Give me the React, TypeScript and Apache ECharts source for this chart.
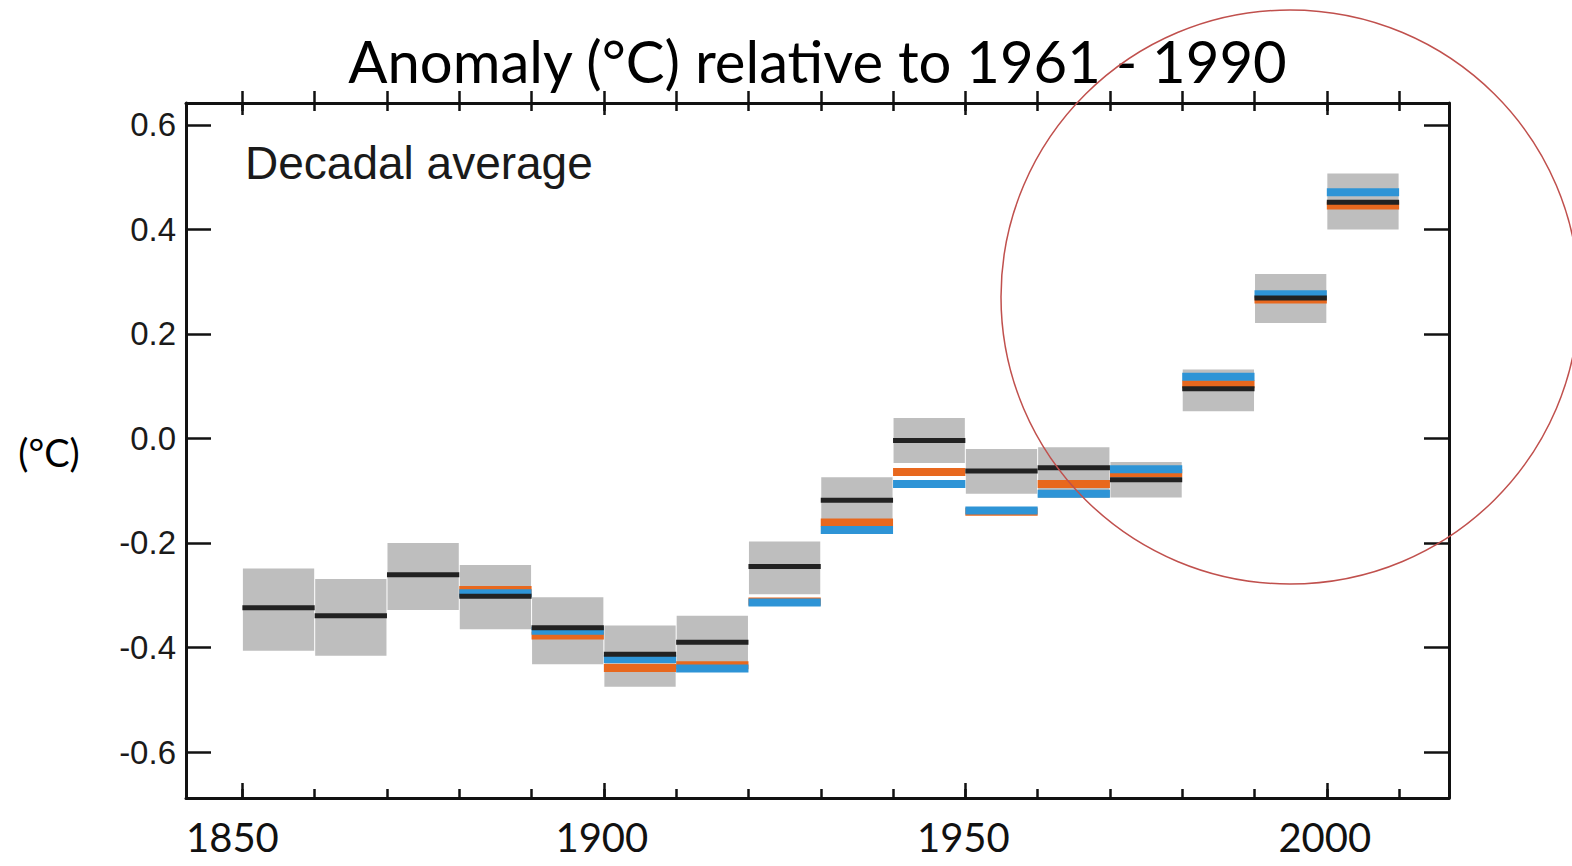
import React, { useEffect, useRef } from "react";
import * as echarts from "echarts";

// Decade start years (each box spans one decade)
const decades = [1850, 1860, 1870, 1880, 1890, 1900, 1910, 1920, 1930, 1940, 1950, 1960, 1970, 1980, 1990, 2000];
// Grey uncertainty band (low / high)
const bandLow = [-0.406, -0.416, -0.328, -0.365, -0.432, -0.475, -0.429, -0.298, -0.160, -0.047, -0.106, -0.114, -0.113, 0.052, 0.221, 0.400];
const bandHigh = [-0.249, -0.269, -0.200, -0.242, -0.304, -0.358, -0.339, -0.197, -0.074, 0.039, -0.020, -0.017, -0.045, 0.132, 0.315, 0.507];
// Decadal means of three datasets
const blackMean = [-0.324, -0.339, -0.261, -0.302, -0.362, -0.413, -0.390, -0.245, -0.118, -0.004, -0.062, -0.056, -0.079, 0.095, 0.269, 0.452];
const orangeMean = [null, null, null, -0.290, -0.377, -0.439, -0.434, -0.312, -0.161, -0.064, -0.140, -0.087, -0.066, 0.104, 0.266, 0.446];
const blueMean = [null, null, null, -0.296, -0.368, -0.422, -0.440, -0.314, -0.175, -0.087, -0.138, -0.106, -0.059, 0.118, 0.276, 0.471];

// Axis ticks / labels
const yTicks = [-0.6, -0.4, -0.2, 0, 0.2, 0.4, 0.6];
const xMajor = [1850, 1900, 1950, 2000];
const xAllTicks = [1850, 1860, 1870, 1880, 1890, 1900, 1910, 1920, 1930, 1940, 1950, 1960, 1970, 1980, 1990, 2000, 2010];

const X_MIN = 1842.2;
const X_MAX = 2016.9;
const Y_MIN = -0.688;
const Y_MAX = 0.642;

const GREY = "#bebebe";
const BLACK = "#222222";
const ORANGE = "#e8681e";
const BLUE = "#2e94d6";

function lineSeries(name: string, values: (number | null)[], color: string, thick: number) {
  const data: number[][] = [];
  decades.forEach((d, i) => {
    const v = values[i];
    if (v !== null && v !== undefined) data.push([d, d + 10, v]);
  });
  return {
    type: "custom",
    name,
    xAxisIndex: 0,
    yAxisIndex: 0,
    data,
    encode: { x: [0, 1], y: 2 },
    renderItem: (params: any, api: any) => {
      const a = api.coord([api.value(0), api.value(2)]);
      const b = api.coord([api.value(1), api.value(2)]);
      return {
        type: "rect",
        shape: { x: a[0], y: a[1] - thick / 2, width: b[0] - a[0], height: thick },
        style: { fill: color },
      };
    },
  };
}

export default function App() {
  const ref = useRef<HTMLDivElement>(null);

  useEffect(() => {
    document.body.style.margin = "0";
    const chart = echarts.init(ref.current!, null, { renderer: "svg" });

    const tickStyle = { color: "#111", width: 2.5 };
    const hiddenAxisBase = {
      type: "value",
      min: X_MIN,
      max: X_MAX,
      splitLine: { show: false },
      axisLabel: { show: false },
    };

    const option: any = {
      animation: false,
      backgroundColor: "#ffffff",
      grid: { left: 186, right: 1572 - 1449, top: 103, bottom: 866 - 798, containLabel: false },
      xAxis: [
        {
          type: "value",
          position: "bottom",
          min: X_MIN,
          max: X_MAX,
          splitLine: { show: false },
          axisLine: { show: true, onZero: false, lineStyle: { color: "#111", width: 3 } },
          axisTick: { show: true, inside: true, length: 15, lineStyle: tickStyle, customValues: xMajor },
          axisLabel: {
            show: true,
            customValues: xMajor,
            formatter: (v: number) => (v === 1850 ? "{first|" + v + "}" : "{rest|" + v + "}"),
            rich: {
              first: { fontFamily: "Lato", fontSize: 40, color: "#111", padding: [0, 20, 0, 0] },
              rest: { fontFamily: "Lato", fontSize: 40, color: "#111", padding: [0, 4, 0, 0] },
            },
            fontFamily: "Lato",
            fontSize: 40,
            lineHeight: 32,
            color: "#111",
            margin: 23,
          },
        },
        {
          ...hiddenAxisBase,
          position: "bottom",
          axisLine: { show: false, onZero: false },
          axisTick: { show: true, inside: true, length: 9, lineStyle: tickStyle, customValues: xAllTicks },
        },
        {
          ...hiddenAxisBase,
          position: "top",
          axisLine: { show: true, onZero: false, lineStyle: { color: "#111", width: 3 } },
          axisTick: { show: true, inside: true, length: 12, lineStyle: tickStyle, customValues: xMajor },
        },
        {
          ...hiddenAxisBase,
          position: "top",
          axisLine: { show: false, onZero: false },
          axisTick: { show: true, inside: true, length: 8, lineStyle: tickStyle, customValues: xAllTicks },
        },
        {
          ...hiddenAxisBase,
          position: "top",
          axisLine: { show: false, onZero: false },
          axisTick: { show: true, inside: false, length: 12, lineStyle: tickStyle, customValues: xAllTicks },
        },
      ],
      yAxis: [
        {
          type: "value",
          position: "left",
          min: Y_MIN,
          max: Y_MAX,
          splitLine: { show: false },
          axisLine: { show: true, onZero: false, lineStyle: { color: "#111", width: 3 } },
          axisTick: { show: true, inside: true, length: 25, lineStyle: tickStyle, customValues: yTicks },
          axisLabel: {
            show: true,
            customValues: yTicks,
            formatter: (v: number) => v.toFixed(1),
            fontFamily: "Liberation Sans, Arial, sans-serif",
            fontSize: 33,
            color: "#1a1a1a",
            margin: 10,
          },
        },
        {
          type: "value",
          position: "right",
          min: Y_MIN,
          max: Y_MAX,
          splitLine: { show: false },
          axisLine: { show: true, onZero: false, lineStyle: { color: "#111", width: 3 } },
          axisTick: { show: true, inside: true, length: 25, lineStyle: tickStyle, customValues: yTicks },
          axisLabel: { show: false },
        },
      ],
      series: [
        {
          type: "custom",
          name: "band",
          xAxisIndex: 0,
          yAxisIndex: 0,
          data: decades.map((d, i) => [d, d + 10, bandLow[i], bandHigh[i]]),
          encode: { x: [0, 1], y: [2, 3] },
          renderItem: (params: any, api: any) => {
            const a = api.coord([api.value(0), api.value(3)]);
            const b = api.coord([api.value(1), api.value(2)]);
            return {
              type: "rect",
              shape: { x: a[0] + 0.5, y: a[1], width: b[0] - a[0] - 1, height: b[1] - a[1] },
              style: { fill: GREY },
            };
          },
        },
        lineSeries("orange", orangeMean, ORANGE, 8),
        lineSeries("blue", blueMean, BLUE, 8),
        lineSeries("black", blackMean, BLACK, 5),
      ],
      graphic: [
        {
          type: "text",
          x: 817.5,
          y: 60,
          style: {
            text: "Anomaly (°C) relative to 1961 - 1990",
            font: "58px Lato",
            fill: "#000",
            align: "center",
            verticalAlign: "middle",
          },
        },
        {
          type: "text",
          x: 245,
          y: 163,
          style: {
            text: "Decadal average",
            font: "46px 'Liberation Sans', Arial, sans-serif",
            fill: "#1a1a1a",
            align: "left",
            verticalAlign: "middle",
          },
        },
        {
          type: "text",
          x: 49,
          y: 452,
          style: {
            text: "(°C)",
            font: "38px Lato",
            fill: "#000",
            align: "center",
            verticalAlign: "middle",
          },
        },
        {
          type: "ellipse",
          shape: { cx: 1290, cy: 297, rx: 289, ry: 287 },
          style: { fill: "none", stroke: "#c0504d", lineWidth: 1.5 },
          silent: true,
          z: 100,
        },
      ],
    };

    chart.setOption(option);
    return () => chart.dispose();
  }, []);

  return (
    <div
      ref={ref}
      style={{ position: "absolute", left: 0, top: 0, width: 1572, height: 866 }}
    />
  );
}
